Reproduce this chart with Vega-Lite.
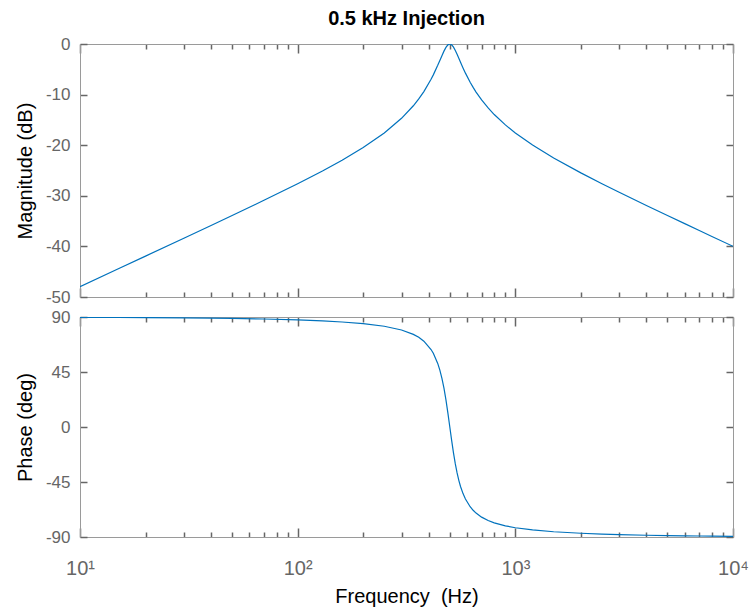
{
  "$schema": "https://vega.github.io/schema/vega-lite/v6.json",
  "background": "white",
  "padding": {"left": 15, "top": 9, "right": 2, "bottom": 2},
  "spacing": 3,
  "config": {
    "view": {"stroke": null},
    "font": "Liberation Sans",
    "axis": {
      "grid": false,
      "domainColor": "#9a9a9a",
      "domainWidth": 1,
      "tickColor": "#666666",
      "tickWidth": 1.5,
      "labelColor": "#666666",
      "labelFont": "Liberation Sans",
      "labelFontSize": 17,
      "titleFont": "Liberation Sans",
      "titleFontSize": 20,
      "titleFontWeight": "normal",
      "titleColor": "#000000"
    }
  },
  "datasets": {
    "bode": [
      {"f": 10, "mag": -47.96, "phase": 89.77},
      {"f": 15, "mag": -44.43, "phase": 89.66},
      {"f": 20, "mag": -41.92, "phase": 89.54},
      {"f": 30, "mag": -38.39, "phase": 89.31},
      {"f": 40, "mag": -35.86, "phase": 89.08},
      {"f": 50, "mag": -33.89, "phase": 88.84},
      {"f": 70, "mag": -30.89, "phase": 88.36},
      {"f": 100, "mag": -27.61, "phase": 87.61},
      {"f": 130, "mag": -25.09, "phase": 86.81},
      {"f": 160, "mag": -22.96, "phase": 85.92},
      {"f": 200, "mag": -20.46, "phase": 84.56},
      {"f": 250, "mag": -17.58, "phase": 82.41},
      {"f": 300, "mag": -14.69, "phase": 79.38},
      {"f": 340, "mag": -12.21, "phase": 75.8},
      {"f": 360, "mag": -10.86, "phase": 73.35},
      {"f": 380, "mag": -9.41, "phase": 70.21},
      {"f": 410, "mag": -6.98, "phase": 63.41},
      {"f": 420, "mag": -6.1, "phase": 60.29},
      {"f": 440, "mag": -4.22, "phase": 52.04},
      {"f": 450, "mag": -3.25, "phase": 46.55},
      {"f": 460, "mag": -2.3, "phase": 39.86},
      {"f": 470, "mag": -1.41, "phase": 31.76},
      {"f": 480, "mag": -0.67, "phase": 22.21},
      {"f": 490, "mag": -0.17, "phase": 11.42},
      {"f": 500, "mag": 0, "phase": 0},
      {"f": 510, "mag": -0.17, "phase": -11.2},
      {"f": 520, "mag": -0.62, "phase": -21.42},
      {"f": 530, "mag": -1.27, "phase": -30.25},
      {"f": 540, "mag": -2.02, "phase": -37.61},
      {"f": 550, "mag": -2.81, "phase": -43.67},
      {"f": 560, "mag": -3.6, "phase": -48.64},
      {"f": 575, "mag": -4.72, "phase": -54.5},
      {"f": 590, "mag": -5.76, "phase": -58.98},
      {"f": 620, "mag": -7.56, "phase": -65.23},
      {"f": 640, "mag": -8.58, "phase": -68.15},
      {"f": 660, "mag": -9.5, "phase": -70.43},
      {"f": 700, "mag": -11.06, "phase": -73.74},
      {"f": 750, "mag": -12.64, "phase": -76.5},
      {"f": 800, "mag": -13.94, "phase": -78.41},
      {"f": 900, "mag": -15.99, "phase": -80.87},
      {"f": 1000, "mag": -17.58, "phase": -82.41},
      {"f": 1200, "mag": -19.97, "phase": -84.24},
      {"f": 1500, "mag": -22.52, "phase": -85.71},
      {"f": 2000, "mag": -25.47, "phase": -86.95},
      {"f": 2500, "mag": -27.61, "phase": -87.61},
      {"f": 3000, "mag": -29.3, "phase": -88.04},
      {"f": 4000, "mag": -31.91, "phase": -88.55},
      {"f": 5000, "mag": -33.89, "phase": -88.84},
      {"f": 6000, "mag": -35.5, "phase": -89.04},
      {"f": 7000, "mag": -36.86, "phase": -89.18},
      {"f": 8000, "mag": -38.03, "phase": -89.28},
      {"f": 10000, "mag": -39.98, "phase": -89.43}
    ]
  },
  "vconcat": [
    {
      "width": 653,
      "height": 253,
      "data": {"name": "bode"},
      "title": {"text": "0.5 kHz Injection", "font": "Liberation Sans", "fontSize": 20, "fontWeight": "bold", "color": "#000000", "anchor": "middle", "offset": 6},
      "layer": [
        {
          "mark": {"type": "line", "color": "#0072BD", "strokeWidth": 1.2, "clip": true},
          "encoding": {
            "x": {"field": "f", "type": "quantitative", "scale": {"type": "log", "domain": [10, 10000], "nice": false},
              "axis": {"orient": "bottom", "title": null, "labels": false,
                "values": [10, 20, 30, 40, 50, 60, 70, 80, 90, 100, 200, 300, 400, 500, 600, 700, 800, 900, 1000, 2000, 3000, 4000, 5000, 6000, 7000, 8000, 9000, 10000],
                "tickSize": {"condition": {"test": "indexof([10,100,1000,10000], datum.value) >= 0", "value": -9}, "value": -5}}},
            "y": {"field": "mag", "type": "quantitative", "scale": {"domain": [-50, 0], "nice": false},
              "axis": {"orient": "left", "title": "Magnitude (dB)", "values": [-50, -40, -30, -20, -10, 0], "tickSize": -7, "labelPadding": 17, "titlePadding": 10,
                "labelExpr": "datum.value < 0 ? '-' + abs(datum.value) : '' + datum.value"}}
          }
        },
        {
          "mark": {"type": "line", "strokeOpacity": 0},
          "encoding": {
            "x": {"field": "f", "type": "quantitative", "scale": {"type": "log", "domain": [10, 10000], "nice": false},
              "axis": {"orient": "top", "title": null, "labels": false,
                "values": [10, 20, 30, 40, 50, 60, 70, 80, 90, 100, 200, 300, 400, 500, 600, 700, 800, 900, 1000, 2000, 3000, 4000, 5000, 6000, 7000, 8000, 9000, 10000],
                "tickSize": {"condition": {"test": "indexof([10,100,1000,10000], datum.value) >= 0", "value": -9}, "value": -5}}},
            "y": {"field": "mag", "type": "quantitative", "scale": {"domain": [-50, 0], "nice": false},
              "axis": {"orient": "right", "title": null, "labels": false, "values": [-50, -40, -30, -20, -10, 0], "tickSize": -7}}
          }
        }
      ],
      "resolve": {"axis": {"x": "independent", "y": "independent"}}
    },
    {
      "width": 653,
      "height": 220,
      "data": {"name": "bode"},
      "layer": [
        {
          "mark": {"type": "line", "color": "#0072BD", "strokeWidth": 1.2, "clip": true},
          "encoding": {
            "x": {"field": "f", "type": "quantitative", "scale": {"type": "log", "domain": [10, 10000], "nice": false},
              "axis": {"orient": "bottom", "title": "Frequency\u00a0 (Hz)", "titlePadding": 8,
                "values": [10, 20, 30, 40, 50, 60, 70, 80, 90, 100, 200, 300, 400, 500, 600, 700, 800, 900, 1000, 2000, 3000, 4000, 5000, 6000, 7000, 8000, 9000, 10000],
                "labelExpr": "datum.value == 10 ? '10¹' : datum.value == 100 ? '10²' : datum.value == 1000 ? '10³' : datum.value == 10000 ? '10⁴' : ''",
                "labelFlush": false, "labelPadding": 30, "labelFontSize": 20,
                "tickSize": {"condition": {"test": "indexof([10,100,1000,10000], datum.value) >= 0", "value": -9}, "value": -5}}},
            "y": {"field": "phase", "type": "quantitative", "scale": {"domain": [-90, 90], "nice": false},
              "axis": {"orient": "left", "title": "Phase (deg)", "values": [-90, -45, 0, 45, 90], "tickSize": -7, "labelPadding": 17, "titlePadding": 10,
                "labelExpr": "datum.value < 0 ? '-' + abs(datum.value) : '' + datum.value"}}
          }
        },
        {
          "mark": {"type": "line", "strokeOpacity": 0},
          "encoding": {
            "x": {"field": "f", "type": "quantitative", "scale": {"type": "log", "domain": [10, 10000], "nice": false},
              "axis": {"orient": "top", "title": null, "labels": false,
                "values": [10, 20, 30, 40, 50, 60, 70, 80, 90, 100, 200, 300, 400, 500, 600, 700, 800, 900, 1000, 2000, 3000, 4000, 5000, 6000, 7000, 8000, 9000, 10000],
                "tickSize": {"condition": {"test": "indexof([10,100,1000,10000], datum.value) >= 0", "value": -9}, "value": -5}}},
            "y": {"field": "phase", "type": "quantitative", "scale": {"domain": [-90, 90], "nice": false},
              "axis": {"orient": "right", "title": null, "labels": false, "values": [-90, -45, 0, 45, 90], "tickSize": -7}}
          }
        }
      ],
      "resolve": {"axis": {"x": "independent", "y": "independent"}}
    }
  ]
}
